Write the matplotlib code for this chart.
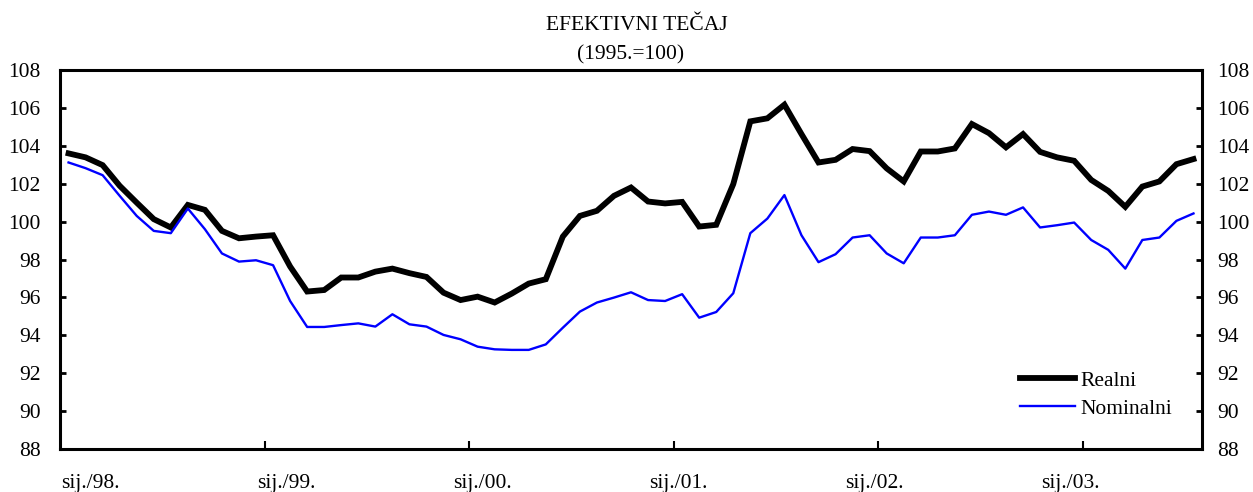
import numpy as np
import matplotlib.pyplot as plt

plt.rcParams['font.family'] = ['Liberation Serif', 'DejaVu Serif']

# mjesečni podaci, sij./98. - srp./03.
realni = [103.6, 103.39, 102.98, 101.89, 101.0, 100.13, 99.69, 100.88, 100.62, 99.51,
          99.12, 99.21, 99.28, 97.63, 96.31, 96.39, 97.05, 97.05, 97.36, 97.52,
          97.28, 97.08, 96.25, 95.86, 96.04, 95.73, 96.2, 96.73, 96.96, 99.21,
          100.3, 100.57, 101.36, 101.8, 101.06, 100.96, 101.04, 99.74, 99.83, 101.98,
          105.29, 105.45, 106.17, 104.62, 103.12, 103.26, 103.83, 103.72, 102.81, 102.12,
          103.7, 103.7, 103.86, 105.15, 104.67, 103.92, 104.62, 103.68, 103.39, 103.21,
          102.2, 101.62, 100.78, 101.85, 102.12, 103.03, 103.3]
nominalni = [103.12, 102.82, 102.45, 101.36, 100.3, 99.51, 99.39, 100.69, 99.6, 98.32,
             97.89, 97.96, 97.7, 95.81, 94.44, 94.44, 94.54, 94.63, 94.46, 95.11,
             94.58, 94.46, 94.02, 93.79, 93.4, 93.26, 93.23, 93.23, 93.52, 94.4,
             95.25, 95.73, 95.99, 96.27, 95.86, 95.81, 96.17, 94.93, 95.23, 96.22,
             99.39, 100.16, 101.4, 99.28, 97.86, 98.28, 99.16, 99.28, 98.32, 97.8,
             99.16, 99.16, 99.28, 100.36, 100.53, 100.36, 100.75, 99.69, 99.81, 99.95,
             99.03, 98.51, 97.52, 99.03, 99.16, 100.04, 100.43]
godine = ['sij./98.', 'sij./99.', 'sij./00.', 'sij./01.', 'sij./02.', 'sij./03.']
y_ticks = list(range(88, 109, 2))

FS = 15.5
n = len(realni)
x = np.arange(n)

fig = plt.figure(figsize=(12.53, 4.92), dpi=100)
ax = fig.add_axes([0.0479, 0.0874, 0.9114, 0.7703])

ax.plot(x, realni, color='black', lw=4.2, solid_joinstyle='miter', label='Realni')
ax.plot(x, nominalni, color='#0000ff', lw=1.7, label='Nominalni')

ax.set_xlim(-0.5, n - 0.5)
ax.set_ylim(88, 108)
ax.set_yticks(y_ticks)
ax.tick_params(axis='y', direction='in', length=4, width=2, labelsize=FS, pad=14)

# desna os s istim oznakama
ax2 = ax.twinx()
ax2.set_ylim(88, 108)
ax2.set_yticks(y_ticks)
ax2.tick_params(axis='y', direction='in', length=4, width=2, labelsize=FS, pad=11)
ax2.spines[:].set_visible(False)

# godišnje oznake na granicama siječnja
ax.set_xticks(np.arange(11.5, n, 12))
ax.set_xticklabels([])
ax.tick_params(axis='x', direction='in', length=6, width=1.5)
for k, lab in enumerate(godine):
    ax.text(-0.45 + k * 11.5, -0.09, lab, transform=ax.get_xaxis_transform(),
            ha='left', va='center', fontsize=FS)

for s in ax.spines.values():
    s.set_linewidth(2.2)

ax.legend(loc='lower right', bbox_to_anchor=(0.991, 0.028), frameon=False,
          fontsize=FS, handlelength=2.55, handletextpad=0.25, labelspacing=0.38)

fig.text(0.508, 0.948, 'EFEKTIVNI TEČAJ', ha='center', va='center', fontsize=FS)
fig.text(0.503, 0.888, '(1995.=100)', ha='center', va='center', fontsize=FS)

fig.savefig('out.png', dpi=100)
